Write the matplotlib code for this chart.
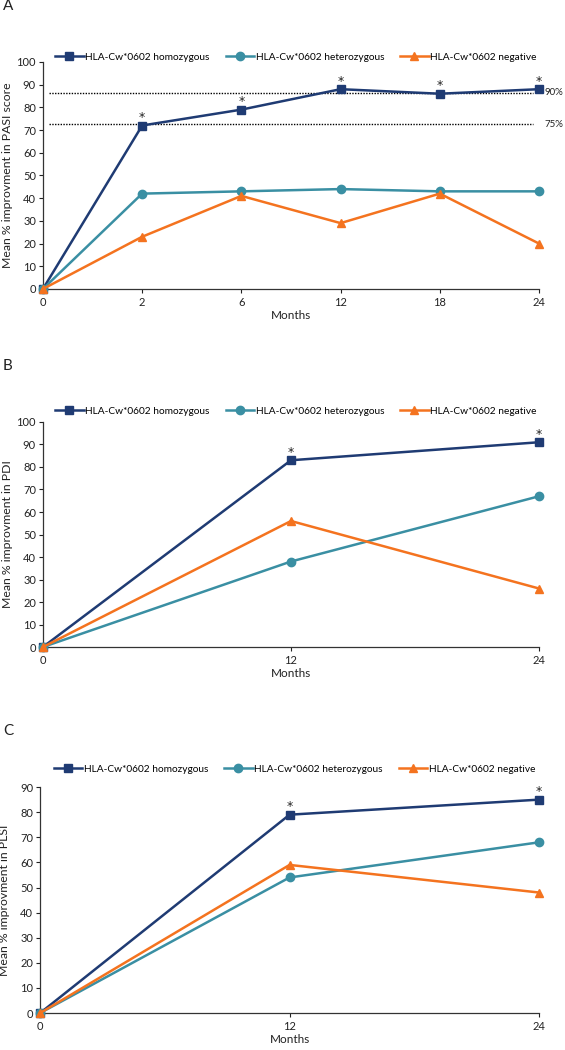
import matplotlib
matplotlib.use("Agg")
import matplotlib.pyplot as plt

plt.rcParams['font.family'] = ['Lato', 'DejaVu Sans']

# ── data ─────────────────────────────────────────────
months_a = ['0', '2', '6', '12', '18', '24']
pasi_homo = [0, 72, 79, 88, 86, 88]
pasi_het = [0, 42, 43, 44, 43, 43]
pasi_neg = [0, 23, 41, 29, 42, 20]
pasi_star = [1, 2, 3, 4, 5]
pasi_refs = [86.5, 72.5]
pasi_ref_labels = ['90%', '75%']

months_bc = ['0', '12', '24']
pdi_homo = [0, 83, 91]
pdi_het = [0, 38, 67]
pdi_neg = [0, 56, 26]
pdi_star = [1, 2]

plsi_homo = [0, 79, 85]
plsi_het = [0, 54, 68]
plsi_neg = [0, 59, 48]
plsi_star = [1, 2]

labels = ['HLA-Cw*0602 homozygous', 'HLA-Cw*0602 heterozygous',
          'HLA-Cw*0602 negative']
colors = ['#1F3B73', '#3A8FA3', '#F4731F']
markers = ['s', 'o', '^']
msizes = [5.5, 6, 6]

fig = plt.figure(figsize=(5.65, 10.5), dpi=100)

# letter, axes rect, categories, series, starred points, ymax, ylabel, legend y
panels = [
    ('A', [0.076, 0.7248, 0.878, 0.2162], months_a,
     [pasi_homo, pasi_het, pasi_neg], pasi_star, 100,
     'Mean % improvment in PASI score', 1.022),
    ('B', [0.076, 0.3838, 0.878, 0.2143], months_bc,
     [pdi_homo, pdi_het, pdi_neg], pdi_star, 100,
     'Mean % improvment in PDI', 1.049),
    ('C', [0.071, 0.0352, 0.883, 0.2152], months_bc,
     [plsi_homo, plsi_het, plsi_neg], plsi_star, 90,
     'Mean % improvment in PLSI', 1.08),
]

for letter, rect, cats, series, stars, ymax, ylab, leg_y in panels:
    ax = fig.add_axes(rect)
    x = list(range(len(cats)))
    for vals, lab, c, m, ms in zip(series, labels, colors, markers, msizes):
        ax.plot(x, vals, color=c, lw=1.8, marker=m, markersize=ms,
                label=lab, clip_on=False, zorder=3)
    for i in stars:
        ax.annotate('*', (x[i], series[0][i]), xytext=(0, 1),
                    textcoords='offset points', ha='center', va='bottom',
                    fontsize=9, family='DejaVu Sans', color='#222222',
                    zorder=4)

    ax.set_xlim(0, len(cats) - 1)
    ax.set_ylim(0, ymax)
    ax.set_yticks(range(0, ymax + 1, 10))
    ax.set_xticks(x)
    ax.set_xticklabels(cats)
    ax.tick_params(axis='both', labelsize=8, colors='#222222',
                   length=3, width=0.8, direction='out')
    ax.tick_params(axis='x', pad=3)
    ax.tick_params(axis='y', pad=2)
    for s in ['top', 'right']:
        ax.spines[s].set_visible(False)
    for s in ['left', 'bottom']:
        ax.spines[s].set_color('#333333')
        ax.spines[s].set_linewidth(0.9)

    ax.set_ylabel(ylab, fontsize=8.8, color='#222222')
    ax.yaxis.set_label_coords(-0.061 * 0.878 / rect[2], 0.5)
    ax.set_xlabel('Months', fontsize=8.5, color='#222222', labelpad=1.5)

    ax.legend(loc='center', bbox_to_anchor=(0.51, leg_y), ncol=3,
              frameon=False, fontsize=7.3, handlelength=2.8,
              columnspacing=1.6, handletextpad=0.15, numpoints=1,
              borderaxespad=0)

    fig.text(0.005, rect[1] + rect[3] + 0.047, letter, fontsize=11,
             ha='left', va='bottom', color='#222222')

    if letter == 'A':
        n = len(cats) - 1
        for yv, tl in zip(pasi_refs, pasi_ref_labels):
            ax.plot([0.06, n - 0.06], [yv, yv], color='black', lw=1,
                    linestyle=(0, (1, 1)), zorder=2)
            ax.text(n + 0.055, yv, tl, fontsize=7, va='center',
                    ha='left', color='#222222', clip_on=False)

fig.savefig('out.png', dpi=100, facecolor='white')
